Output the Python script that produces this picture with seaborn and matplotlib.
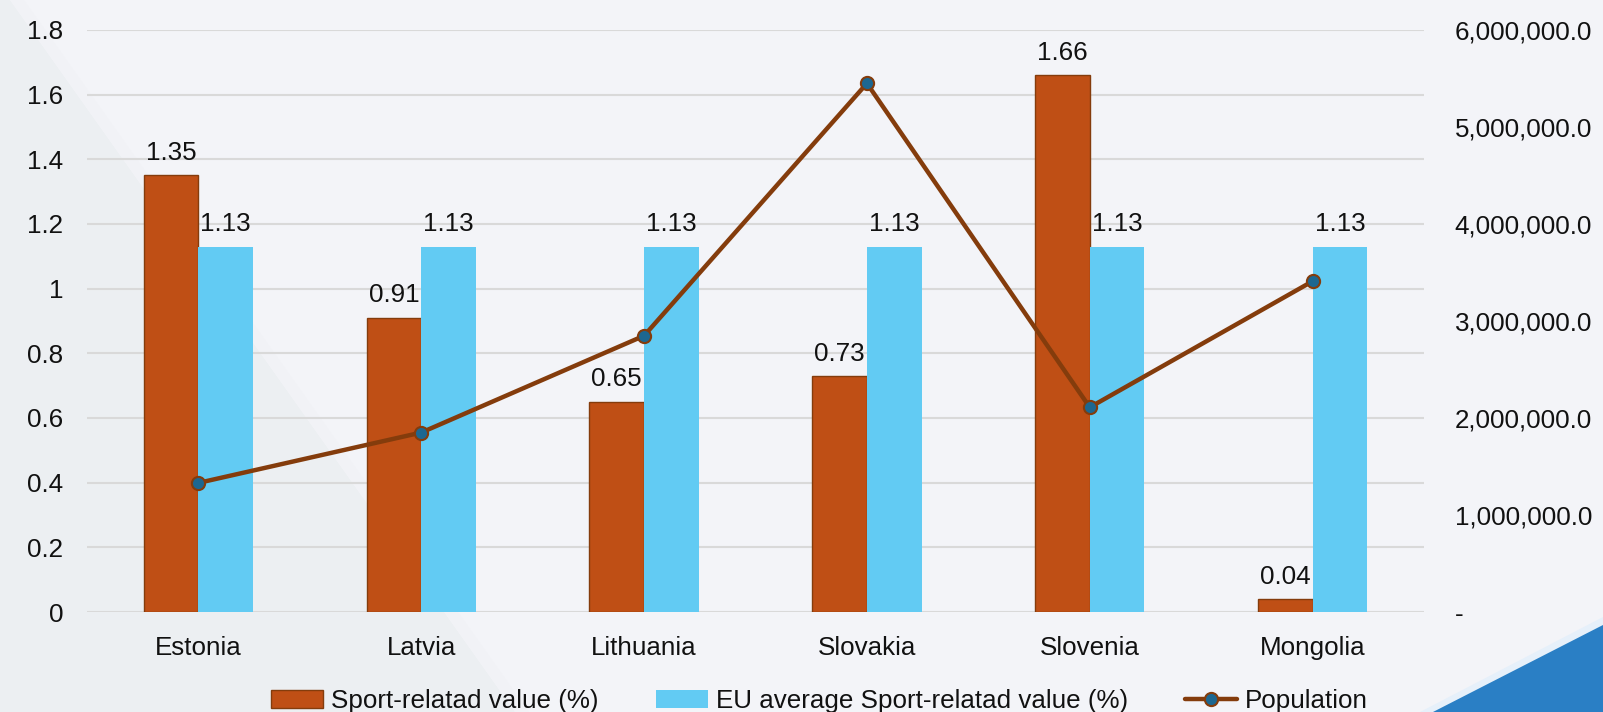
import matplotlib
matplotlib.use("Agg")
import matplotlib.pyplot as plt
from matplotlib.patches import Polygon, Patch
from matplotlib.lines import Line2D
from matplotlib.ticker import FuncFormatter, MultipleLocator
import seaborn as sns
import pandas as pd
import numpy as np

# ---- data ----
countries = ["Estonia", "Latvia", "Lithuania", "Slovakia", "Slovenia", "Mongolia"]
sport_value = [1.35, 0.91, 0.65, 0.73, 1.66, 0.04]
eu_average = [1.13, 1.13, 1.13, 1.13, 1.13, 1.13]
population = [1331000, 1850000, 2848000, 5450000, 2110000, 3410000]
series_names = ["Sport-relatad value (%)", "EU average Sport-relatad value (%)", "Population"]

# ---- style ----
sns.set_style("white")
plt.rcParams["font.family"] = ["Liberation Sans", "DejaVu Sans"]
FS = 18.7
ORANGE = "#BF4F15"
ORANGE_EDGE = "#843C0C"
BLUE = "#62CBF3"
LINE = "#843C0C"
MARKER = "#1D6790"
BG = "#F3F4F8"

fig = plt.figure(figsize=(16.03, 7.12), dpi=100)
fig.patch.set_facecolor(BG)

W, H = 1603.0, 712.0
def fc(pts):
    return [(x / W, 1 - y / H) for x, y in pts]

# background decoration
fig.add_artist(Polygon(fc([(0, 0), (10, 0), (515, 712), (0, 712)]), closed=True,
                       transform=fig.transFigure, facecolor="#ECEFF2", edgecolor="none", zorder=-10))
fig.add_artist(Polygon(fc([(10, 0), (24, 0), (529, 712), (515, 712)]), closed=True,
                       transform=fig.transFigure, facecolor="#F1F2F6", edgecolor="none", zorder=-9))
fig.add_artist(Polygon(fc([(1420, 712), (1603, 617), (1603, 712)]), closed=True,
                       transform=fig.transFigure, facecolor="#E6F0FA", edgecolor="none", zorder=-9))
fig.add_artist(Polygon(fc([(1433, 712), (1603, 625), (1603, 712)]), closed=True,
                       transform=fig.transFigure, facecolor="#2A7FC5", edgecolor="none", zorder=-8))

ax = fig.add_axes([87 / W, 1 - 612 / H, (1424 - 87) / W, (612 - 30) / H])
ax.set_facecolor("none")

df = pd.DataFrame({
    "country": countries * 2,
    "value": sport_value + eu_average,
    "series": [series_names[0]] * len(countries) + [series_names[1]] * len(countries),
})

sns.barplot(data=df, x="country", y="value", hue="series", order=countries,
            hue_order=series_names[:2], palette=[ORANGE, BLUE], saturation=1,
            width=0.49, gap=0, legend=False, ax=ax, zorder=2)

for p in ax.containers[0]:
    p.set_edgecolor(ORANGE_EDGE)
    p.set_linewidth(1.0)
for p in ax.containers[1]:
    p.set_edgecolor("none")

for cont in ax.containers:
    ax.bar_label(cont, fmt="%.2f", padding=7.5, fontsize=FS, color="#111111")

ax.set_ylim(0, 1.8)
ax.yaxis.set_major_locator(MultipleLocator(0.2))
ax.yaxis.set_major_formatter(FuncFormatter(lambda v, p: f"{v:.1f}".rstrip("0").rstrip(".") if v != 0 else "0"))
ax.yaxis.grid(True, color="#D9D9D9", linewidth=1.5, zorder=0)
ax.set_axisbelow(True)
for s in ax.spines.values():
    s.set_visible(False)
ax.tick_params(axis="y", length=0, pad=17, labelsize=FS, labelcolor="#111111")
ax.tick_params(axis="x", length=0, pad=17.5, labelsize=FS, labelcolor="#111111")
ax.set_xlabel("")
ax.set_ylabel("")

# population line on the secondary axis
ax2 = ax.twinx()
sns.pointplot(x=countries, y=population, ax=ax2, color=LINE, markers="o", linestyles="-",
              errorbar=None, linewidth=3.2, markersize=9.5,
              markerfacecolor=MARKER, markeredgecolor=LINE, markeredgewidth=1.5)
ax2.set_ylim(0, 6000000)
ax2.yaxis.set_major_locator(MultipleLocator(1000000))
ax2.yaxis.set_major_formatter(FuncFormatter(lambda v, p: "-" if v == 0 else f"{v:,.1f}"))
ax2.tick_params(axis="y", length=0, pad=22, labelsize=FS, labelcolor="#111111")
ax2.grid(False)
for s in ax2.spines.values():
    s.set_visible(False)
ax2.xaxis.set_visible(False)
ax2.set_ylabel("")
ax2.set_xlim(-0.5, len(countries) - 0.5)

handles = [
    Patch(facecolor=ORANGE, edgecolor=ORANGE_EDGE, linewidth=1.0),
    Patch(facecolor=BLUE, edgecolor="none"),
    Line2D([], [], color=LINE, linewidth=3.2, marker="o", markersize=9.5,
           markerfacecolor=MARKER, markeredgecolor=LINE, markeredgewidth=1.5),
]
fig.legend(handles, series_names, loc="center", bbox_to_anchor=(819.5 / W, 1 - 701 / H),
           ncol=3, frameon=False, fontsize=FS, handlelength=2.0, handleheight=0.65,
           handletextpad=0.3, columnspacing=2.2, borderpad=0, labelcolor="#111111")

fig.savefig("out.png", dpi=100, facecolor=BG)
